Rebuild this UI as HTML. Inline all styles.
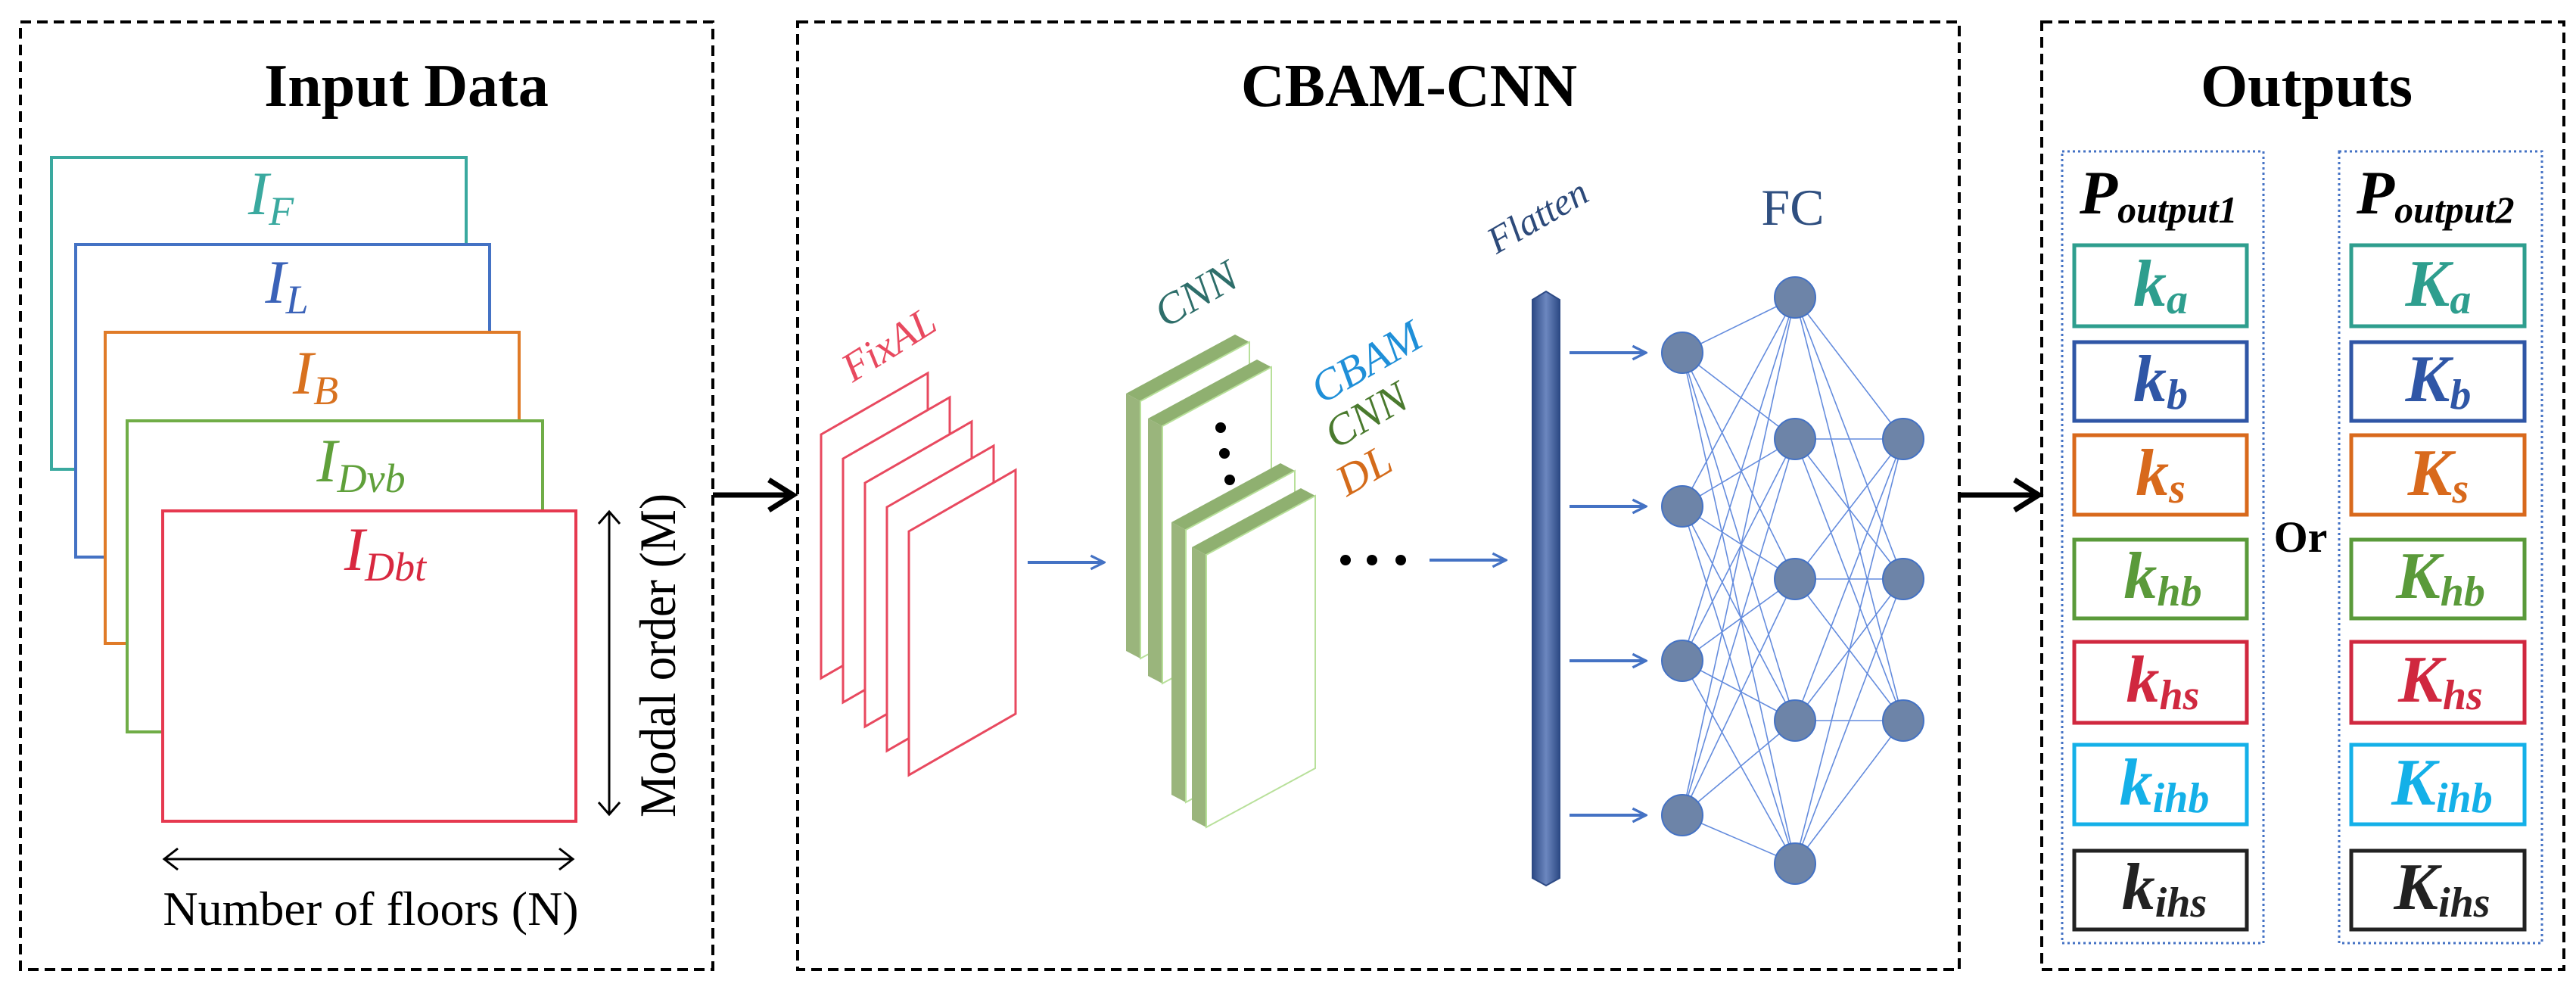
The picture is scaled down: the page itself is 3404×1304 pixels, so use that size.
<!DOCTYPE html>
<html><head><meta charset="utf-8"><style>
html,body{margin:0;padding:0;background:#fff}
svg{display:block}
text{font-family:"Liberation Serif",serif}
</style></head><body>
<svg width="3404" height="1304" viewBox="0 0 3404 1304" xmlns="http://www.w3.org/2000/svg">
<defs>
<marker id="bh" viewBox="0 0 10 10" refX="9" refY="5" markerWidth="22" markerHeight="22" orient="auto" markerUnits="userSpaceOnUse"><path d="M1,1 L9,5 L1,9" fill="none" stroke="#4472c4" stroke-width="1.5"/></marker>
<linearGradient id="fl" x1="0" x2="1"><stop offset="0" stop-color="#2d4a85"/><stop offset="0.5" stop-color="#6c87bf"/><stop offset="1" stop-color="#2d4a85"/></linearGradient>
</defs>
<g fill="none" stroke="#000" stroke-width="4" stroke-dasharray="14,8">
<rect x="27" y="29" width="915" height="1252"/>
<rect x="1054" y="29" width="1535" height="1252"/>
<rect x="2698" y="29" width="690" height="1252"/>
</g>
<g font-weight="bold" font-size="80" text-anchor="middle" fill="#000">
<text x="537" y="140">Input Data</text>
<text x="1862" y="140">CBAM-CNN</text>
<text x="3048" y="140">Outputs</text>
</g>
<g fill="#fff" stroke-width="4">
<rect x="68" y="208" width="548" height="412" stroke="#3aa99f"/>
<rect x="100" y="323" width="547" height="413" stroke="#4472c4"/>
<rect x="139" y="439" width="547" height="411" stroke="#e07b28"/>
<rect x="168" y="556" width="549" height="411" stroke="#70ad47"/>
<rect x="215" y="675" width="546" height="410" stroke="#e63950"/>
</g>
<g font-style="italic" font-size="82" text-anchor="middle">
<text x="358" y="283" fill="#3aa99f">I<tspan font-size="54" dy="14">F</tspan></text>
<text x="379" y="400" fill="#3a62b8">I<tspan font-size="54" dy="14">L</tspan></text>
<text x="417" y="520" fill="#d8711f">I<tspan font-size="54" dy="14">B</tspan></text>
<text x="477" y="636" fill="#5fa03a">I<tspan font-size="54" dy="14">Dvb</tspan></text>
<text x="509" y="753" fill="#d8283f">I<tspan font-size="54" dy="14">Dbt</tspan></text>
</g>
<g stroke="#000" stroke-width="3" fill="none">
<line x1="805" y1="676" x2="805" y2="1076"/>
<path d="M791,692 L805,676 L819,692"/><path d="M791,1060 L805,1076 L819,1060"/>
<line x1="217" y1="1135" x2="757" y2="1135"/>
<path d="M235,1121 L217,1135 L235,1149"/><path d="M739,1121 L757,1135 L739,1149"/>
</g>
<text x="490" y="1222" font-size="64" text-anchor="middle">Number of floors (N)</text>
<text transform="translate(892,866) rotate(-90)" font-size="68" text-anchor="middle" textLength="428" lengthAdjust="spacingAndGlyphs">Modal order (M)</text>
<g stroke="#000" stroke-width="7" fill="none">
<line x1="942" y1="654" x2="1046" y2="654"/><path d="M1016,634 L1048,654 L1016,674"/>
<line x1="2589" y1="654" x2="2692" y2="654"/><path d="M2662,634 L2694,654 L2662,674"/>
</g>
<g fill="#fff" stroke="#e8495f" stroke-width="3">
<polygon points="1085,574 1226,493 1226,815 1085,896"/>
<polygon points="1114,606 1255,525 1255,847 1114,928"/>
<polygon points="1143,638 1284,557 1284,879 1143,960"/>
<polygon points="1172,670 1313,589 1313,911 1172,992"/>
<polygon points="1201,702 1342,621 1342,943 1201,1024"/>
</g>
<text transform="translate(1184,470) rotate(-32)" font-size="54" font-style="italic" fill="#e8495f" text-anchor="middle">FixAL</text>
<g stroke="#4472c4" stroke-width="4" fill="none" marker-end="url(#bh)">
<line x1="1358" y1="743" x2="1459" y2="743"/>
<line x1="1889" y1="740" x2="1990" y2="740"/>
<line x1="2074" y1="466" x2="2175" y2="466"/>
<line x1="2074" y1="669" x2="2175" y2="669"/>
<line x1="2074" y1="873" x2="2175" y2="873"/>
<line x1="2074" y1="1077" x2="2175" y2="1077"/>
</g>
<g>
<g transform="translate(1488,520)">
<polygon points="0,0 144,-78 163,-68 19,10" fill="#8fb070"/>
<polygon points="0,0 19,10 19,350 0,340" fill="#9ab57c"/>
<polygon points="19,10 163,-68 163,272 19,350" fill="#fff" stroke="#b8e09a" stroke-width="2"/>
</g>
<g transform="translate(1517,553)">
<polygon points="0,0 144,-78 163,-68 19,10" fill="#8fb070"/>
<polygon points="0,0 19,10 19,350 0,340" fill="#9ab57c"/>
<polygon points="19,10 163,-68 163,272 19,350" fill="#fff" stroke="#b8e09a" stroke-width="2"/>
</g>
<g transform="translate(1548,690)">
<polygon points="0,0 144,-78 163,-68 19,10" fill="#8fb070"/>
<polygon points="0,0 19,10 19,370 0,360" fill="#9ab57c"/>
<polygon points="19,10 163,-68 163,292 19,370" fill="#fff" stroke="#b8e09a" stroke-width="2"/>
</g>
<g transform="translate(1575,723)">
<polygon points="0,0 144,-78 163,-68 19,10" fill="#8fb070"/>
<polygon points="0,0 19,10 19,370 0,360" fill="#9ab57c"/>
<polygon points="19,10 163,-68 163,292 19,370" fill="#fff" stroke="#b8e09a" stroke-width="2"/>
</g>
</g>
<g fill="#000">
<circle cx="1613" cy="565" r="7"/><circle cx="1618" cy="599" r="7"/><circle cx="1625" cy="634" r="7"/>
<circle cx="1778" cy="740" r="7"/><circle cx="1813" cy="740" r="7"/><circle cx="1851" cy="740" r="7"/>
</g>
<g font-style="italic" font-size="58" text-anchor="middle">
<text transform="translate(1590,405) rotate(-30)" fill="#2e6e6a">CNN</text>
<text transform="translate(1815,495) rotate(-30)" fill="#1f8fd8">CBAM</text>
<text transform="translate(1815,565) rotate(-30)" fill="#4a7a2e">CNN</text>
<text transform="translate(1812,638) rotate(-30)" fill="#d46b1a">DL</text>
<text transform="translate(2040,300) rotate(-30)" fill="#2d4a7a" font-size="50">Flatten</text>
</g>
<polygon points="2025,396 2043,385 2061,396 2061,1160 2043,1170 2025,1160" fill="url(#fl)" stroke="#2d4a85" stroke-width="2"/>
<text x="2369" y="297" font-size="68" text-anchor="middle" fill="#2f4f80">FC</text>
<g stroke="#4a78d8" stroke-width="1.6" opacity="0.85">
<path d="M2223,466L2372,393M2223,466L2372,580M2223,466L2372,765M2223,466L2372,952M2223,466L2372,1141
M2223,669L2372,393M2223,669L2372,580M2223,669L2372,765M2223,669L2372,952M2223,669L2372,1141
M2223,873L2372,393M2223,873L2372,580M2223,873L2372,765M2223,873L2372,952M2223,873L2372,1141
M2223,1077L2372,393M2223,1077L2372,580M2223,1077L2372,765M2223,1077L2372,952M2223,1077L2372,1141
M2372,393L2515,580M2372,393L2515,765M2372,393L2515,952
M2372,580L2515,580M2372,580L2515,765M2372,580L2515,952
M2372,765L2515,580M2372,765L2515,765M2372,765L2515,952
M2372,952L2515,580M2372,952L2515,765M2372,952L2515,952
M2372,1141L2515,580M2372,1141L2515,765M2372,1141L2515,952"/>
</g>
<g fill="#6d84a8" stroke="#4472c4" stroke-width="2">
<circle cx="2223" cy="466" r="27"/><circle cx="2223" cy="669" r="27"/><circle cx="2223" cy="873" r="27"/><circle cx="2223" cy="1077" r="27"/>
<circle cx="2372" cy="393" r="27"/><circle cx="2372" cy="580" r="27"/><circle cx="2372" cy="765" r="27"/><circle cx="2372" cy="952" r="27"/><circle cx="2372" cy="1141" r="27"/>
<circle cx="2515" cy="580" r="27"/><circle cx="2515" cy="765" r="27"/><circle cx="2515" cy="952" r="27"/>
</g>
<g fill="none" stroke="#4472c4" stroke-width="3" stroke-dasharray="3,4">
<rect x="2725" y="200" width="266" height="1046"/>
<rect x="3091" y="200" width="268" height="1046"/>
</g>
<g font-weight="bold" font-style="italic" fill="#000">
<text x="2748" y="282" font-size="82">P<tspan font-size="50" dy="12">output1</tspan></text>
<text x="3114" y="282" font-size="82">P<tspan font-size="50" dy="12">output2</tspan></text>
</g>
<text x="3040" y="729" font-size="58" font-weight="bold" text-anchor="middle">Or</text>
<g fill="#fff" stroke-width="5">
<rect x="2741" y="324" width="228" height="107" stroke="#2e9e8e"/><rect x="3107" y="324" width="229" height="107" stroke="#2e9e8e"/>
<rect x="2741" y="452" width="228" height="104" stroke="#2f56a6"/><rect x="3107" y="452" width="229" height="104" stroke="#2f56a6"/>
<rect x="2741" y="575" width="228" height="105" stroke="#d8691c"/><rect x="3107" y="575" width="229" height="105" stroke="#d8691c"/>
<rect x="2741" y="713" width="228" height="104" stroke="#5a9a3a"/><rect x="3107" y="713" width="229" height="104" stroke="#5a9a3a"/>
<rect x="2741" y="848" width="228" height="107" stroke="#d0283f"/><rect x="3107" y="848" width="229" height="107" stroke="#d0283f"/>
<rect x="2741" y="984" width="228" height="105" stroke="#14b0e8"/><rect x="3107" y="984" width="229" height="105" stroke="#14b0e8"/>
<rect x="2741" y="1124" width="228" height="104" stroke="#222"/><rect x="3107" y="1124" width="229" height="104" stroke="#222"/>
</g>
<g font-weight="bold" font-style="italic" font-size="88" text-anchor="middle">
<text x="2855" y="404" fill="#2e9e8e">k<tspan font-size="56" dy="10">a</tspan></text>
<text x="3222" y="404" fill="#2e9e8e">K<tspan font-size="56" dy="10">a</tspan></text>
<text x="2855" y="530" fill="#2f56a6">k<tspan font-size="56" dy="10">b</tspan></text>
<text x="3222" y="530" fill="#2f56a6">K<tspan font-size="56" dy="10">b</tspan></text>
<text x="2855" y="654" fill="#d8691c">k<tspan font-size="56" dy="10">s</tspan></text>
<text x="3222" y="654" fill="#d8691c">K<tspan font-size="56" dy="10">s</tspan></text>
<text x="2858" y="790" fill="#5a9a3a">k<tspan font-size="56" dy="10">hb</tspan></text>
<text x="3225" y="790" fill="#5a9a3a">K<tspan font-size="56" dy="10">hb</tspan></text>
<text x="2858" y="927" fill="#d0283f">k<tspan font-size="56" dy="10">hs</tspan></text>
<text x="3225" y="927" fill="#d0283f">K<tspan font-size="56" dy="10">hs</tspan></text>
<text x="2860" y="1063" fill="#14b0e8">k<tspan font-size="56" dy="10">ihb</tspan></text>
<text x="3227" y="1063" fill="#14b0e8">K<tspan font-size="56" dy="10">ihb</tspan></text>
<text x="2860" y="1201" fill="#222">k<tspan font-size="56" dy="10">ihs</tspan></text>
<text x="3227" y="1201" fill="#222">K<tspan font-size="56" dy="10">ihs</tspan></text>
</g>
</svg>
</body></html>
